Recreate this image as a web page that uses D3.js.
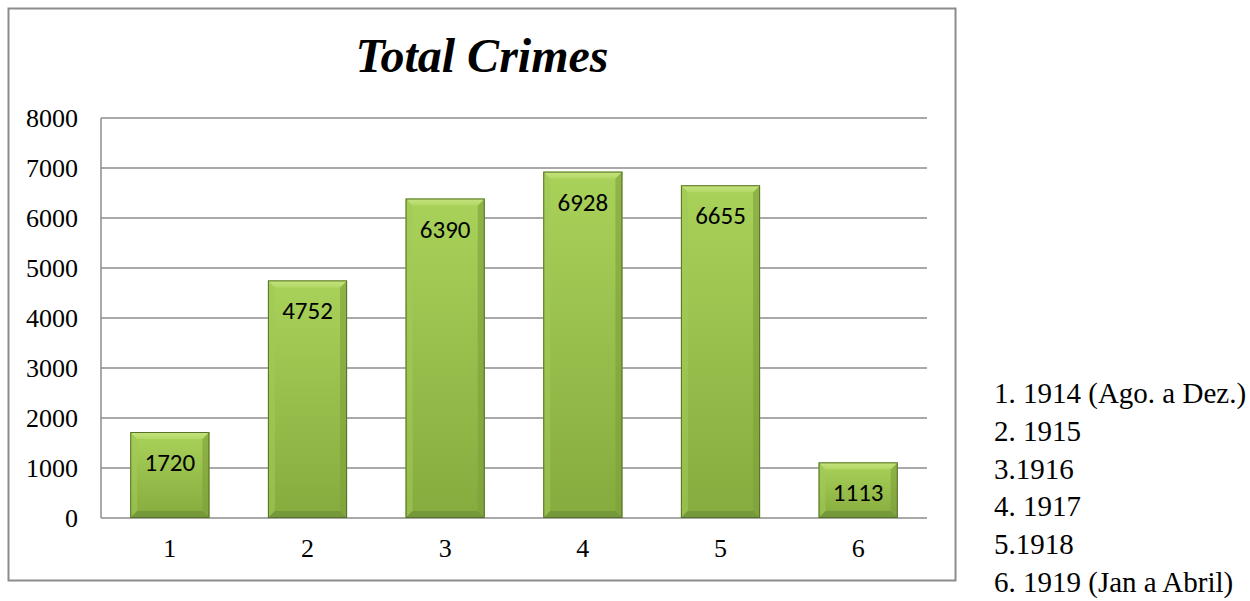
<!DOCTYPE html>
<html><head><meta charset="utf-8">
<script src="https://cdn.jsdelivr.net/npm/d3@7"></script>
<style>body{margin:0;background:#fff}svg{display:block}</style>
</head><body>
<script>
const categories = ["1","2","3","4","5","6"];
const values = [1720, 4752, 6390, 6928, 6655, 1113];
const yTicks = [0,1000,2000,3000,4000,5000,6000,7000,8000];
const legendLines = ["1. 1914 (Ago. a Dez.)","2. 1915","3.1916","4. 1917","5.1918","6. 1919 (Jan a Abril)"];
const title = "Total Crimes";

(function(){
const W = 1250, H = 601;
const serif = "'Liberation Serif','Times New Roman',Times,serif";
const svg = d3.select("body").append("svg").attr("width", W).attr("height", H);
const defs = svg.append("defs");
const g1 = defs.append("linearGradient").attr("id","barg").attr("x1",0).attr("x2",0).attr("y1",0).attr("y2",1);
g1.append("stop").attr("offset","0%").attr("stop-color","#a9d25a");
g1.append("stop").attr("offset","100%").attr("stop-color","#86ab3e");
const g2 = defs.append("linearGradient").attr("id","bevt").attr("x1",0).attr("x2",0).attr("y1",0).attr("y2",1);
g2.append("stop").attr("offset","0%").attr("stop-color","#c6e47e");
g2.append("stop").attr("offset","100%").attr("stop-color","#b2d866");

svg.append("rect").attr("x",8.5).attr("y",8.5).attr("width",947).attr("height",572)
  .attr("fill","#fff").attr("stroke","#8c8c8c").attr("stroke-width",2);

const pl = 101, pr = 927, pt = 118, pb = 518;
const x = d3.scaleBand().domain(categories).range([pl,pr]).paddingInner(0.425).paddingOuter(0.2125);
const y = d3.scaleLinear().domain([0,8000]).range([pb,pt]);

svg.append("g").selectAll("line").data(yTicks).join("line")
  .attr("x1",pl).attr("x2",pr).attr("y1",d=>y(d)).attr("y2",d=>y(d))
  .attr("stroke","#8c8c8c").attr("stroke-width",1.5);
svg.append("line").attr("x1",pl).attr("x2",pl).attr("y1",pt).attr("y2",pb)
  .attr("stroke","#8c8c8c").attr("stroke-width",1.5);

const yAxis = d3.axisLeft(y).tickValues(yTicks).tickFormat(d3.format("d")).tickSize(0).tickPadding(23);
const ya = svg.append("g").attr("transform",`translate(${pl},0)`).call(yAxis);
ya.select(".domain").remove();
ya.selectAll("text").attr("font-family",serif).attr("font-size",26).attr("fill","#000");

const xAxis = d3.axisBottom(x).tickSize(0).tickPadding(21);
const xa = svg.append("g").attr("transform",`translate(0,${pb})`).call(xAxis);
xa.select(".domain").remove();
xa.selectAll("text").attr("font-family",serif).attr("font-size",26).attr("fill","#000");

const bw = x.bandwidth(), bv = 7;
const bars = svg.append("g").selectAll("g").data(values).join("g");
const bx = (i)=>x(categories[i]);
bars.append("rect").attr("x",(d,i)=>bx(i)).attr("y",d=>y(d)).attr("width",bw).attr("height",d=>pb-y(d))
  .attr("fill","url(#barg)");
bars.append("path").attr("d",(d,i)=>{const x0=bx(i),y0=y(d);
  return `M${x0},${y0}L${x0+bv},${y0+bv}L${x0+bv},${pb-bv}L${x0},${pb}Z`;}).attr("fill","#a0c957").attr("opacity",0.6);
bars.append("path").attr("d",(d,i)=>{const x1=bx(i)+bw,y0=y(d);
  return `M${x1},${y0}L${x1-bv},${y0+bv}L${x1-bv},${pb-bv}L${x1},${pb}Z`;}).attr("fill","#7d9f3a").attr("opacity",0.6);
bars.append("path").attr("d",(d,i)=>{const x0=bx(i),x1=x0+bw;
  return `M${x0},${pb}L${x0+bv},${pb-bv}L${x1-bv},${pb-bv}L${x1},${pb}Z`;}).attr("fill","#74983a");
bars.append("path").attr("d",(d,i)=>{const x0=bx(i),x1=x0+bw,y0=y(d);
  return `M${x0},${y0}L${x1},${y0}L${x1-bv},${y0+bv}L${x0+bv},${y0+bv}Z`;}).attr("fill","url(#bevt)");
bars.append("rect").attr("x",(d,i)=>bx(i)+0.5).attr("y",d=>y(d)+0.5).attr("width",bw-1).attr("height",d=>pb-y(d)-1)
  .attr("fill","none").attr("stroke","#55722a").attr("stroke-width",1);
bars.append("text").attr("x",(d,i)=>bx(i)+bw/2).attr("y",d=>y(d)+39)
  .attr("text-anchor","middle").attr("font-family","Carlito,Lato,'Open Sans','Noto Sans',sans-serif").attr("font-size",25)
  .attr("fill","#000").text(d=>d);

svg.append("text").attr("x",482).attr("y",72).attr("text-anchor","middle")
  .attr("font-family",serif).attr("font-size",48)
  .attr("font-weight","bold").attr("font-style","italic").text(title);

svg.append("g").selectAll("text").data(legendLines).join("text")
  .attr("x",994).attr("y",(d,i)=>403+i*37.8)
  .attr("font-family",serif).attr("font-size",29).attr("fill","#000")
  .text(d=>d);
})();
</script>
</body></html>
